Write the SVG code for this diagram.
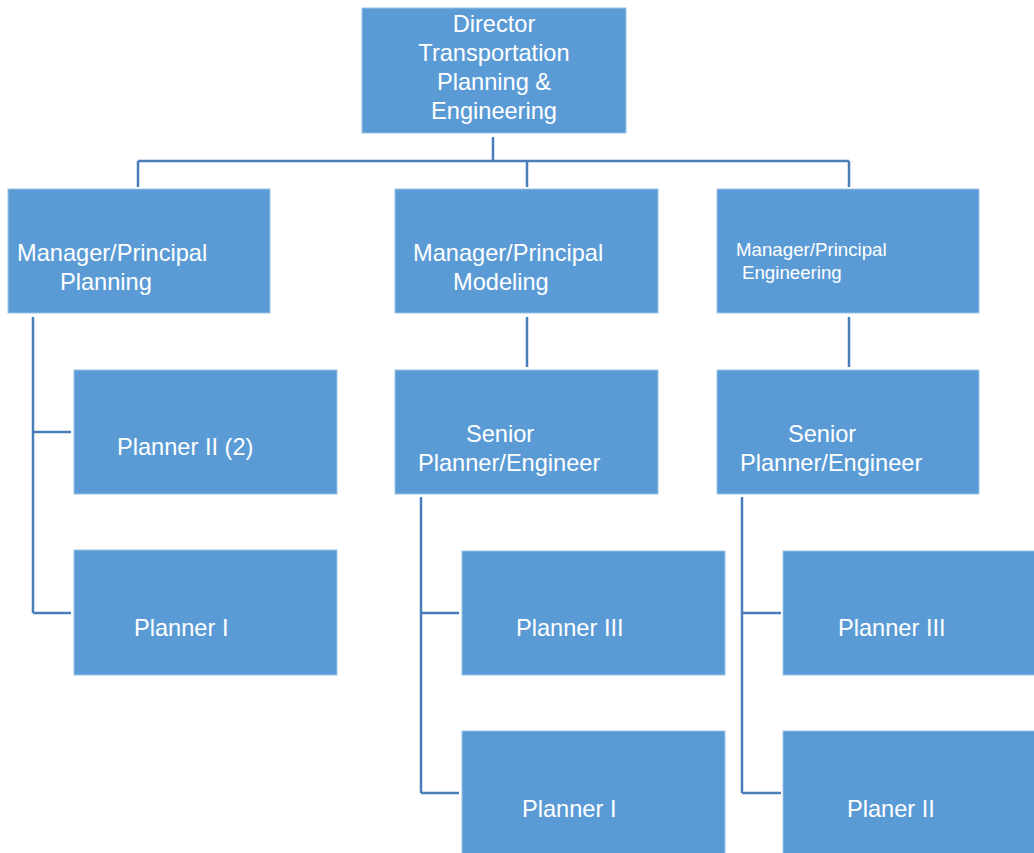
<svg xmlns="http://www.w3.org/2000/svg" width="1034" height="853" viewBox="0 0 1034 853">
  <style>
    .box { fill: #5b9bd5; stroke: #9dc3e6; stroke-width: 1; }
    .lbl { fill: #ffffff; font-family: "Liberation Sans", Arial, sans-serif; font-size: 23.6px; }
    .sm { font-size: 18.7px; }
    .mid { text-anchor: middle; }
    .wire { fill: none; stroke: #4a7ebb; stroke-width: 2.5; }
  </style>
  <rect width="1034" height="853" fill="#ffffff"/>

  <!-- connectors -->
  <g id="connectors">
    <path class="wire" d="M493 137 V161 M138 161 H849 M138 161 V187 M527 161 V187 M849 161 V187"/>
    <path class="wire" d="M33 317 V613 M33 432 H71 M33 613 H71"/>
    <path class="wire" d="M527 317 V367 M849 317 V367"/>
    <path class="wire" d="M421 497 V793 M421 613 H459 M421 793 H459"/>
    <path class="wire" d="M742 497 V793 M742 613 H781 M742 793 H781"/>
  </g>

  <g id="director">
    <rect class="box" x="362" y="8" width="264" height="125"/>
    <text class="lbl mid" x="494" y="32">Director</text>
    <text class="lbl mid" x="494" y="61">Transportation</text>
    <text class="lbl mid" x="494" y="90">Planning &amp;</text>
    <text class="lbl mid" x="494" y="119">Engineering</text>
  </g>

  <g id="mgr-planning">
    <rect class="box" x="8" y="189" width="262" height="124"/>
    <text class="lbl" x="17" y="261">Manager/Principal</text>
    <text class="lbl" x="60" y="290">Planning</text>
  </g>

  <g id="mgr-modeling">
    <rect class="box" x="395" y="189" width="263" height="124"/>
    <text class="lbl" x="413" y="261">Manager/Principal</text>
    <text class="lbl" x="453" y="290">Modeling</text>
  </g>

  <g id="mgr-engineering">
    <rect class="box" x="717" y="189" width="262" height="124"/>
    <text class="lbl sm" x="736" y="256">Manager/Principal</text>
    <text class="lbl sm" x="742" y="279">Engineering</text>
  </g>

  <g id="planner2-left">
    <rect class="box" x="74" y="370" width="263" height="124"/>
    <text class="lbl" x="117" y="455">Planner II (2)</text>
  </g>

  <g id="planner1-left">
    <rect class="box" x="74" y="550" width="263" height="125"/>
    <text class="lbl" x="134" y="636">Planner I</text>
  </g>

  <g id="senior-modeling">
    <rect class="box" x="395" y="370" width="263" height="124"/>
    <text class="lbl" x="466" y="442">Senior</text>
    <text class="lbl" x="418" y="471">Planner/Engineer</text>
  </g>

  <g id="senior-engineering">
    <rect class="box" x="717" y="370" width="262" height="124"/>
    <text class="lbl" x="788" y="442">Senior</text>
    <text class="lbl" x="740" y="471">Planner/Engineer</text>
  </g>

  <g id="planner3-modeling">
    <rect class="box" x="462" y="551" width="263" height="124"/>
    <text class="lbl" x="516" y="636">Planner III</text>
  </g>

  <g id="planner1-modeling">
    <rect class="box" x="462" y="731" width="263" height="125"/>
    <text class="lbl" x="522" y="817">Planner I</text>
  </g>

  <g id="planner3-engineering">
    <rect class="box" x="783" y="551" width="263" height="124"/>
    <text class="lbl" x="838" y="636">Planner III</text>
  </g>

  <g id="planer2-engineering">
    <rect class="box" x="783" y="731" width="263" height="125"/>
    <text class="lbl" x="847" y="817">Planer II</text>
  </g>
</svg>
